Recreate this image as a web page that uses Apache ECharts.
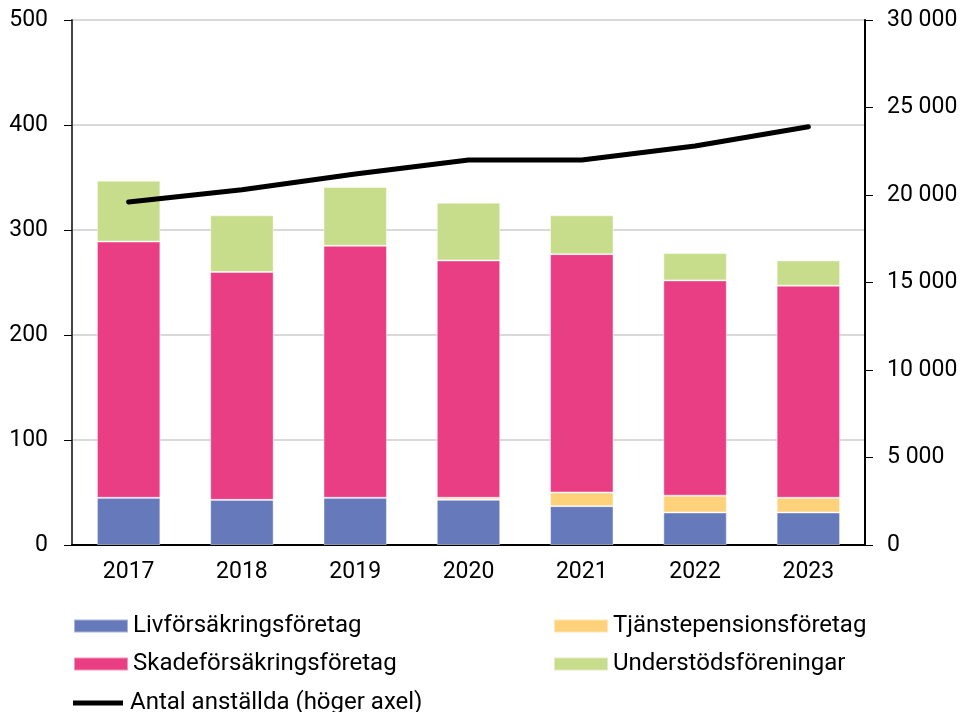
<!DOCTYPE html>
<html>
<head>
<meta charset="utf-8">
<script src="https://cdn.jsdelivr.net/npm/echarts@6/dist/echarts.min.js"></script>
<style>
  html, body { margin: 0; padding: 0; background: #fff; }
  #chart { width: 964px; height: 712px; }
</style>
</head>
<body>
<div id="chart"></div>
<script>
// data
var years = ['2017', '2018', '2019', '2020', '2021', '2022', '2023'];
var livData = [45, 43, 45, 43, 37, 31, 31];
var tjansteData = [0, 0, 0, 2, 13, 16, 14];
var skadeData = [244, 217, 240, 226, 227, 205, 202];
var understodData = [58, 54, 56, 55, 37, 26, 24];
var anstallda = [19600, 20300, 21200, 22000, 22000, 22800, 23900];

var names = ['Livförsäkringsföretag', 'Tjänstepensionsföretag', 'Skadeförsäkringsföretag', 'Understödsföreningar', 'Antal anställda (höger axel)'];
var colors = ['#6679BB', '#FED27A', '#E93D84', '#C8DD8B'];

var myChart = echarts.init(document.getElementById('chart'));
var font = 'Roboto, "Liberation Sans", sans-serif';

function fmtThousands(v) {
    return String(v).replace(/\B(?=(\d{3})+(?!\d))/g, ' ');
}

function barSeries(idx, data) {
    return {
        name: names[idx],
        type: 'bar',
        stack: 'total',
        barWidth: '56%',
        data: data,
        itemStyle: { color: colors[idx], borderColor: 'rgba(255,255,255,0.45)', borderWidth: 1 }
    };
}

function legendItem(name, left, top) {
    return {
        data: [{ name: name, icon: 'rect' }],
        left: left,
        top: top,
        padding: 0,
        itemWidth: 54,
        itemHeight: 13,
        itemGap: 0,
        textStyle: { fontFamily: font, fontSize: 24, color: '#000', padding: [0, 0, 0, 0] }
    };
}

var option = {
    animation: false,
    backgroundColor: '#fff',
    grid: { left: 72, right: 99, top: 20, bottom: 167 },
    legend: [
        legendItem(names[0], 73, 614),
        legendItem(names[1], 553, 614),
        legendItem(names[2], 73, 652),
        legendItem(names[3], 553, 652),
        {
            data: [{ name: names[4], icon: 'path://M0,0 L100,0 L100,10 L0,10 Z' }],
            left: 73,
            top: 691,
            padding: 0,
            itemWidth: 54,
            itemHeight: 5,
            textStyle: { fontFamily: font, fontSize: 24, color: '#000' }
        }
    ],
    xAxis: {
        type: 'category',
        data: years,
        axisLine: { lineStyle: { color: '#000', width: 2 } },
        axisTick: { show: false },
        axisLabel: { fontFamily: font, fontSize: 23, color: '#000', margin: 16 }
    },
    yAxis: [
        {
            type: 'value',
            min: 0,
            max: 500,
            interval: 100,
            axisLine: { show: true, lineStyle: { color: '#444', width: 2 } },
            axisTick: { show: true, length: 8, lineStyle: { color: '#000' } },
            axisLabel: { fontFamily: font, fontSize: 23, color: '#000', margin: 24 },
            splitLine: { show: true, lineStyle: { color: '#D9D9D9', width: 2 } }
        },
        {
            type: 'value',
            position: 'right',
            min: 0,
            max: 30000,
            interval: 5000,
            axisLine: { show: true, lineStyle: { color: '#000', width: 2 } },
            axisTick: { show: true, length: 8, lineStyle: { color: '#000' } },
            axisLabel: { fontFamily: font, fontSize: 23, color: '#000', margin: 22, formatter: fmtThousands },
            splitLine: { show: false }
        }
    ],
    series: [
        barSeries(0, livData),
        barSeries(1, tjansteData),
        barSeries(2, skadeData),
        barSeries(3, understodData),
        {
            name: names[4],
            type: 'line',
            yAxisIndex: 1,
            data: anstallda,
            symbol: 'none',
            itemStyle: { color: '#000' },
            lineStyle: { color: '#000', width: 5, cap: 'round', join: 'round' },
            z: 5
        }
    ]
};

myChart.setOption(option);
</script>
</body>
</html>
